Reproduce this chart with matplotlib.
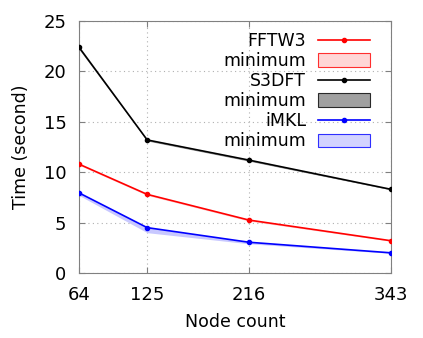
import matplotlib
matplotlib.use("Agg")
import matplotlib.pyplot as plt

nodes = [64, 125, 216, 343]

fftw3 = [10.8, 7.8, 5.25, 3.2]
fftw3_min = [10.7, 7.7, 5.15, 3.15]
s3dft = [22.4, 13.2, 11.2, 8.3]
s3dft_min = [22.2, 13.1, 11.1, 8.25]
imkl = [7.95, 4.5, 3.05, 2.0]
imkl_min = [7.7, 4.0, 2.9, 1.95]

plt.rcParams["font.family"] = "DejaVu Sans"

fig = plt.figure(figsize=(4.23, 3.38), dpi=100)
ax = fig.add_axes([79 / 423, 1 - 273 / 338, 312 / 423, 252 / 338])

series = [
    ("FFTW3", fftw3, fftw3_min, "#ff0000", "#ffcccc"),
    ("S3DFT", s3dft, s3dft_min, "#000000", "#888888"),
    ("iMKL", imkl, imkl_min, "#0000ff", "#c8c8ff"),
]
for name, vals, mins, col, fill in series:
    ax.plot(nodes, vals, color=col, lw=1.2, marker="o", ms=3, label=name, zorder=3)
    ax.fill_between(nodes, mins, vals, facecolor=fill, edgecolor=col, lw=0,
                    label="minimum", zorder=2)

ax.set_xlim(64, 343)
ax.set_ylim(0, 25)
ax.set_xticks(nodes)
ax.set_yticks([0, 5, 10, 15, 20, 25])
ax.tick_params(direction="in", top=True, right=True, length=4, color="#808080",
               labelsize=13)
ax.tick_params(axis="x", pad=9)
ax.tick_params(axis="y", pad=9)
for sp in ax.spines.values():
    sp.set_color("#808080")
    sp.set_linewidth(0.8)
ax.grid(True, color="#b0b0b0", linestyle=(0, (1, 3)), lw=0.8)

ax.set_xlabel("Node count", fontsize=12.5, labelpad=7)
ax.set_ylabel("Time (second)", fontsize=12.5, labelpad=10)

leg = ax.legend(loc="upper right", frameon=False, markerfirst=False, fontsize=12.5,
                handlelength=3.0, handleheight=0.8, labelspacing=0.12,
                borderaxespad=0.3, handletextpad=0.7, numpoints=1,
                bbox_to_anchor=(0.972, 1.005))
for h, (name, vals, mins, col, fill) in zip(leg.legend_handles[1::2], series):
    h.set_edgecolor(col)
    h.set_linewidth(0.8)
    h.set_alpha(0.8)
fig.savefig("out.png", dpi=100)
